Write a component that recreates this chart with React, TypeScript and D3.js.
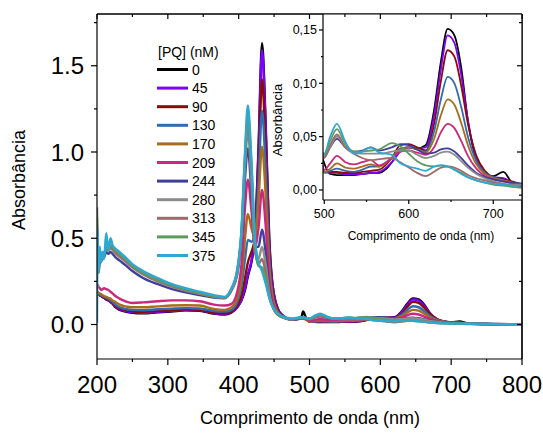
import React from "react";
import * as d3 from "d3";

// wavelength grid (nm) shared by every spectrum
const wavelengths = [
  200, 201, 202, 204, 206, 208, 210, 213, 216, 219, 222, 226, 232, 240, 250, 265, 285, 305, 325, 345, 365, 380,
  390, 398, 404, 409, 413, 418, 423, 428, 433, 438, 443, 450, 460, 475,
  488, 491, 495, 500, 507, 515, 525, 535, 545, 555, 565, 580, 590, 600, 610, 620, 630, 638, 646, 654, 662, 670, 680, 690, 700, 712, 722, 735, 760, 800,
];

const pq0 = [
  0.17, 0.18, 0.18, 0.17, 0.165, 0.16, 0.155, 0.145, 0.14, 0.13, 0.12, 0.1, 0.085, 0.075, 0.068, 0.065, 0.07, 0.075, 0.082, 0.08, 0.063, 0.058,
  0.07, 0.1, 0.14, 0.2, 0.28, 0.36, 0.52, 1.02, 1.63, 1.18, 0.52, 0.17, 0.06, 0.03,
  0.035, 0.075, 0.04, 0.025, 0.015, 0.014, 0.014, 0.014, 0.015, 0.016, 0.016, 0.026, 0.038, 0.04, 0.039, 0.042, 0.075, 0.12, 0.151, 0.145, 0.115, 0.065, 0.028, 0.016, 0.013, 0.017, 0.007, 0.003, 0.002, 0,
];
const pq45 = [
  0.17, 0.18, 0.18, 0.17, 0.165, 0.16, 0.155, 0.147, 0.14, 0.132, 0.122, 0.103, 0.088, 0.078, 0.072, 0.068, 0.073, 0.078, 0.084, 0.082, 0.065, 0.06,
  0.072, 0.1, 0.145, 0.21, 0.29, 0.37, 0.52, 0.99, 1.59, 1.15, 0.5, 0.17, 0.06, 0.03,
  0.035, 0.04, 0.035, 0.017, 0.016, 0.016, 0.015, 0.015, 0.015, 0.016, 0.017, 0.026, 0.036, 0.04, 0.039, 0.04, 0.07, 0.113, 0.145, 0.138, 0.108, 0.065, 0.03, 0.017, 0.012, 0.011, 0.007, 0.004, 0.002, 0,
];
const pq90 = [
  0.175, 0.18, 0.18, 0.17, 0.165, 0.16, 0.155, 0.15, 0.143, 0.135, 0.125, 0.108, 0.093, 0.083, 0.077, 0.073, 0.078, 0.082, 0.088, 0.086, 0.068, 0.065,
  0.075, 0.11, 0.17, 0.27, 0.36, 0.42, 0.5, 0.9, 1.42, 1.03, 0.45, 0.15, 0.055, 0.03,
  0.035, 0.036, 0.032, 0.017, 0.017, 0.017, 0.016, 0.016, 0.017, 0.018, 0.019, 0.03, 0.042, 0.043, 0.04, 0.037, 0.062, 0.102, 0.131, 0.125, 0.098, 0.062, 0.032, 0.018, 0.012, 0.01, 0.008, 0.005, 0.002, 0,
];
const pq130 = [
  0.18, 0.18, 0.18, 0.175, 0.17, 0.165, 0.16, 0.155, 0.15, 0.14, 0.13, 0.115, 0.1, 0.09, 0.085, 0.083, 0.088, 0.092, 0.095, 0.093, 0.078, 0.075,
  0.085, 0.13, 0.22, 0.38, 0.49, 0.48, 0.52, 0.82, 1.24, 0.9, 0.4, 0.13, 0.05, 0.03,
  0.035, 0.035, 0.03, 0.016, 0.018, 0.02, 0.018, 0.017, 0.019, 0.022, 0.022, 0.03, 0.039, 0.04, 0.038, 0.036, 0.055, 0.085, 0.106, 0.1, 0.078, 0.05, 0.027, 0.016, 0.012, 0.009, 0.007, 0.005, 0.002, 0,
];
const pq170 = [
  0.19, 0.19, 0.185, 0.18, 0.175, 0.17, 0.165, 0.16, 0.155, 0.15, 0.14, 0.13, 0.115, 0.105, 0.1, 0.1, 0.105, 0.11, 0.112, 0.11, 0.09, 0.085,
  0.1, 0.15, 0.27, 0.5, 0.64, 0.56, 0.5, 0.72, 1.03, 0.76, 0.34, 0.12, 0.05, 0.03,
  0.035, 0.035, 0.03, 0.017, 0.02, 0.025, 0.021, 0.02, 0.022, 0.024, 0.022, 0.03, 0.038, 0.04, 0.038, 0.035, 0.048, 0.07, 0.085, 0.08, 0.063, 0.042, 0.024, 0.015, 0.011, 0.009, 0.007, 0.005, 0.002, 0,
];
const pq209 = [
  0.22, 0.23, 0.22, 0.21, 0.2, 0.205, 0.21, 0.205, 0.2, 0.19, 0.18, 0.165, 0.15, 0.135, 0.125, 0.128, 0.135, 0.14, 0.14, 0.135, 0.115, 0.11,
  0.12, 0.19, 0.35, 0.68, 0.84, 0.66, 0.45, 0.56, 0.78, 0.58, 0.27, 0.1, 0.045, 0.03,
  0.038, 0.037, 0.032, 0.019, 0.025, 0.032, 0.026, 0.024, 0.026, 0.028, 0.023, 0.03, 0.036, 0.037, 0.035, 0.033, 0.04, 0.054, 0.062, 0.058, 0.046, 0.032, 0.02, 0.013, 0.01, 0.008, 0.006, 0.004, 0.002, 0,
];
const pq244 = [
  0.5, 0.42, 0.3, 0.36, 0.37, 0.38, 0.39, 0.42, 0.41, 0.42, 0.41, 0.39, 0.37, 0.345, 0.31, 0.27, 0.235, 0.207, 0.186, 0.17, 0.156, 0.152,
  0.2, 0.29, 0.5, 0.85, 1.02, 0.76, 0.45, 0.45, 0.55, 0.42, 0.21, 0.09, 0.045, 0.03,
  0.04, 0.04, 0.036, 0.031, 0.04, 0.048, 0.04, 0.036, 0.037, 0.04, 0.037, 0.04, 0.043, 0.042, 0.038, 0.034, 0.035, 0.038, 0.039, 0.036, 0.03, 0.023, 0.016, 0.012, 0.01, 0.008, 0.007, 0.006, 0.003, 0,
];
const pq280 = [
  0.68, 0.45, 0.35, 0.38, 0.39, 0.4, 0.41, 0.44, 0.43, 0.44, 0.43, 0.41, 0.39, 0.365, 0.33, 0.29, 0.25, 0.22, 0.197, 0.178, 0.161, 0.155,
  0.2, 0.3, 0.52, 0.92, 1.12, 0.83, 0.42, 0.38, 0.45, 0.35, 0.19, 0.085, 0.045, 0.03,
  0.04, 0.04, 0.036, 0.031, 0.04, 0.05, 0.04, 0.035, 0.034, 0.034, 0.034, 0.036, 0.037, 0.037, 0.033, 0.03, 0.032, 0.035, 0.036, 0.033, 0.027, 0.021, 0.015, 0.011, 0.008, 0.006, 0.005, 0.005, 0.003, 0,
];
const pq313 = [
  0.58, 0.42, 0.35, 0.38, 0.4, 0.39, 0.41, 0.44, 0.43, 0.45, 0.44, 0.42, 0.4, 0.37, 0.335, 0.295, 0.255, 0.224, 0.2, 0.18, 0.163, 0.156,
  0.2, 0.31, 0.53, 0.96, 1.19, 0.88, 0.44, 0.35, 0.38, 0.3, 0.17, 0.085, 0.045, 0.03,
  0.04, 0.04, 0.036, 0.03, 0.042, 0.052, 0.04, 0.034, 0.03, 0.028, 0.029, 0.03, 0.026, 0.021, 0.016, 0.013, 0.017, 0.021, 0.022, 0.021, 0.018, 0.014, 0.011, 0.009, 0.007, 0.005, 0.004, 0.004, 0.002, 0,
];
const pq345 = [
  0.62, 0.4, 0.3, 0.4, 0.38, 0.4, 0.4, 0.45, 0.44, 0.46, 0.45, 0.43, 0.41, 0.38, 0.34, 0.3, 0.26, 0.228, 0.203, 0.183, 0.165, 0.157,
  0.21, 0.31, 0.54, 0.98, 1.23, 0.92, 0.47, 0.34, 0.33, 0.27, 0.16, 0.085, 0.045, 0.03,
  0.04, 0.04, 0.037, 0.033, 0.046, 0.057, 0.043, 0.036, 0.036, 0.037, 0.038, 0.044, 0.041, 0.034, 0.027, 0.023, 0.022, 0.023, 0.022, 0.019, 0.016, 0.012, 0.009, 0.007, 0.005, 0.004, 0.003, 0.002, 0.001, 0,
];
const pq375 = [
  0.01, 0.55, 0.3, 0.45, 0.36, 0.42, 0.38, 0.53, 0.43, 0.5, 0.46, 0.44, 0.42, 0.39, 0.35, 0.31, 0.27, 0.235, 0.21, 0.19, 0.17, 0.16,
  0.21, 0.32, 0.55, 1.0, 1.27, 0.95, 0.5, 0.36, 0.31, 0.24, 0.16, 0.09, 0.05, 0.035,
  0.042, 0.042, 0.038, 0.034, 0.05, 0.062, 0.045, 0.034, 0.036, 0.04, 0.035, 0.033, 0.025, 0.022, 0.02, 0.018, 0.022, 0.023, 0.022, 0.019, 0.015, 0.012, 0.009, 0.007, 0.006, 0.005, 0.004, 0.004, 0.003, 0,
];

const concentrations = ["0", "45", "90", "130", "170", "209", "244", "280", "313", "345", "375"];
const spectra = [pq0, pq45, pq90, pq130, pq170, pq209, pq244, pq280, pq313, pq345, pq375];
const colors = [
  "#000000", "#8000ff", "#8b0a0a", "#2f6cb0", "#a86c1e", "#c8287e",
  "#3f3f9a", "#8c8c8c", "#a06a6a", "#5e9a5e", "#2fa8d0",
];

const mainXTicks = [200, 300, 400, 500, 600, 700, 800];
const mainYTicks = [0, 0.5, 1.0, 1.5];
const insetXTicks = [500, 600, 700];
const insetYTicks = [0, 0.05, 0.1, 0.15];

const W = 543;
const H = 436;
const FONT = "Arial, 'Liberation Sans', sans-serif";

const main = { left: 97, right: 522, top: 14, bottom: 359 };
const ins = { left: 323, right: 522, top: 14, bottom: 200 };

const App = () => {
  const x = d3.scaleLinear().domain([200, 800]).range([main.left, main.right]);
  const y = d3.scaleLinear().domain([-0.2, 1.8]).range([main.bottom, main.top]);
  const xi = d3.scaleLinear().domain([498.5, 734]).range([ins.left, ins.right]);
  const yi = d3.scaleLinear().domain([-0.0094, 0.165]).range([ins.bottom, ins.top]);

  const line = d3
    .line<number>()
    .x((d, i) => x(wavelengths[i]))
    .y(d => y(d))
    .curve(d3.curveMonotoneX);

  const insetLine = d3
    .line<number>()
    .x((d, i) => xi(wavelengths[i]))
    .y(d => yi(d))
    .defined((d, i) => wavelengths[i] >= 488 && wavelengths[i] <= 760)
    .curve(d3.curveMonotoneX);

  const fmtMain = d3.format(".1f");
  const fmtInset = (v: number) => d3.format(".2f")(v).replace(".", ",");

  const xMinor = d3.range(250, 800, 100);
  const yMinor = [0.25, 0.75, 1.25, 1.75];
  const xiMinor = [550, 650];
  const yiMinor = [0.025, 0.075, 0.125];

  return (
    <svg
      width={W}
      height={H}
      style={{ position: "absolute", left: 0, top: 0, background: "#fff" }}
      fontFamily={FONT}
    >
      <defs>
        <clipPath id="clipMain">
          <rect x={main.left} y={main.top} width={main.right - main.left} height={main.bottom - main.top} />
        </clipPath>
        <clipPath id="clipInset">
          <rect x={ins.left} y={ins.top} width={ins.right - ins.left} height={ins.bottom - ins.top} />
        </clipPath>
      </defs>

      {/* main spectra */}
      <g clipPath="url(#clipMain)">
        {spectra.map((s, i) => (
          <path key={i} d={line(s) || ""} fill="none" stroke={colors[i]} strokeWidth={2.4} strokeLinejoin="round" />
        ))}
      </g>

      {/* main axes: left + bottom with labels */}
      <g stroke="#000" strokeWidth={1.2}>
        <line x1={main.left} x2={main.left} y1={main.top} y2={main.bottom} />
        <line x1={main.left} x2={main.right} y1={main.bottom} y2={main.bottom} />
        <line x1={main.left} x2={main.right} y1={main.top} y2={main.top} />
        <line x1={main.right} x2={main.right} y1={main.top} y2={main.bottom} />
        {mainYTicks.map(t => (
          <line key={"yl" + t} x1={main.left - 6} x2={main.left} y1={y(t)} y2={y(t)} />
        ))}
        {yMinor.map(t => (
          <line key={"ym" + t} x1={main.left - 3} x2={main.left} y1={y(t)} y2={y(t)} />
        ))}
        {mainXTicks.map(t => (
          <line key={"xl" + t} x1={x(t)} x2={x(t)} y1={main.bottom} y2={main.bottom + 6} />
        ))}
        {xMinor.map(t => (
          <line key={"xm" + t} x1={x(t)} x2={x(t)} y1={main.bottom} y2={main.bottom + 3} />
        ))}
      </g>
      {mainYTicks.map(t => (
        <text key={"yt" + t} x={main.left - 13} y={y(t)} dy="0.36em" textAnchor="end" fontSize={24}>
          {fmtMain(t)}
        </text>
      ))}
      {mainXTicks.map(t => (
        <text key={"xt" + t} x={x(t)} y={393} textAnchor="middle" fontSize={24}>
          {t}
        </text>
      ))}
      <text x={310} y={424} textAnchor="middle" fontSize={18}>
        Comprimento de onda (nm)
      </text>
      <text transform="translate(25,180) rotate(-90)" textAnchor="middle" fontSize={18}>
        Absorbância
      </text>

      {/* legend */}
      <text x={158} y={52} dy="0.35em" fontSize={14}>
        [PQ] (nM)
      </text>
      {concentrations.map((c, i) => (
        <g key={c} transform={`translate(157,${69.5 + i * 18.6})`}>
          <line x1={0} x2={31} y1={0} y2={0} stroke={colors[i]} strokeWidth={3} />
          <text x={35} y={0} dy="0.36em" fontSize={14}>
            {c}
          </text>
        </g>
      ))}

      {/* inset */}
      <rect x={ins.left} y={ins.top} width={ins.right - ins.left} height={ins.bottom - ins.top} fill="#fff" />
      <g clipPath="url(#clipInset)">
        {spectra.map((s, i) => (
          <path key={i} d={insetLine(s) || ""} fill="none" stroke={colors[i]} strokeWidth={1.8} strokeLinejoin="round" />
        ))}
      </g>
      <g stroke="#000" strokeWidth={1.2}>
        <line x1={ins.left} x2={ins.left} y1={ins.top} y2={ins.bottom} />
        <line x1={ins.left} x2={ins.right} y1={ins.bottom} y2={ins.bottom} />
        {insetYTicks.map(t => (
          <line key={"iy" + t} x1={ins.left - 4} x2={ins.left} y1={yi(t)} y2={yi(t)} />
        ))}
        {yiMinor.map(t => (
          <line key={"iym" + t} x1={ins.left - 2} x2={ins.left} y1={yi(t)} y2={yi(t)} />
        ))}
        {insetXTicks.map(t => (
          <line key={"ix" + t} x1={xi(t)} x2={xi(t)} y1={ins.bottom} y2={ins.bottom + 4} />
        ))}
        {xiMinor.map(t => (
          <line key={"ixm" + t} x1={xi(t)} x2={xi(t)} y1={ins.bottom} y2={ins.bottom + 2} />
        ))}
      </g>
      {insetYTicks.map(t => (
        <text key={"iyt" + t} x={ins.left - 6} y={yi(t)} dy="0.36em" textAnchor="end" fontSize={12.5}>
          {fmtInset(t)}
        </text>
      ))}
      {insetXTicks.map(t => (
        <text key={"ixt" + t} x={xi(t)} y={218} textAnchor="middle" fontSize={12.5}>
          {t}
        </text>
      ))}
      <text x={421} y={240} textAnchor="middle" fontSize={12}>
        Comprimento de onda (nm)
      </text>
      <text transform="translate(282,120) rotate(-90)" textAnchor="middle" fontSize={13}>
        Absorbância
      </text>

      {/* main frame top/right inward ticks, drawn over the inset */}
      <g stroke="#000" strokeWidth={1.2}>
        <line x1={main.left} x2={main.right} y1={main.top} y2={main.top} />
        <line x1={main.right} x2={main.right} y1={main.top} y2={main.bottom} />
        {mainYTicks.concat(yMinor).map(t => (
          <line key={"ry" + t} x1={main.right - (mainYTicks.includes(t) ? 5 : 3)} x2={main.right} y1={y(t)} y2={y(t)} />
        ))}
        {mainXTicks.concat(xMinor).map(t => (
          <line key={"tx" + t} x1={x(t)} x2={x(t)} y1={main.top} y2={main.top + (mainXTicks.includes(t) ? 5 : 3)} />
        ))}
      </g>
    </svg>
  );
};

export default App;
